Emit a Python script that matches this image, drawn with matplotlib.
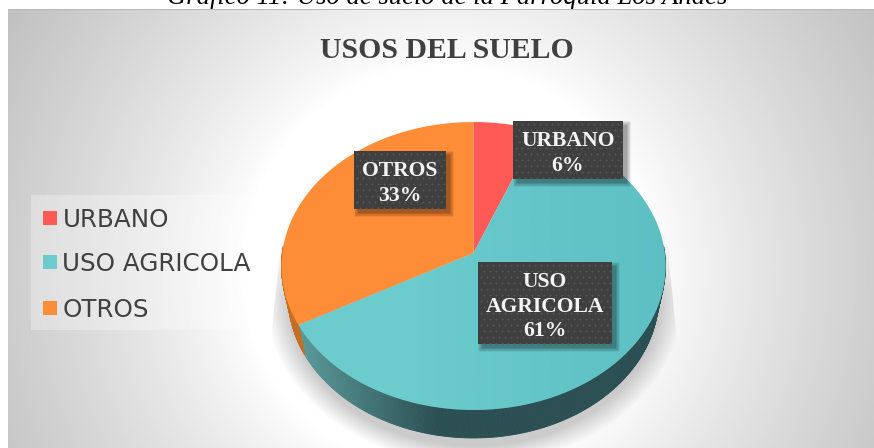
import numpy as np
import matplotlib
matplotlib.use("Agg")
import matplotlib.pyplot as plt
from matplotlib.colors import to_rgb
from matplotlib.patches import Polygon, Rectangle

categories = ["URBANO", "USO AGRICOLA", "OTROS"]
shares = [6, 61, 33]
face_colors = ["#FF5A55", "#6BCBCD", "#FF8C37"]
side_colors = ["#B8403C", "#2B4F52", "#C56D22"]
label_texts = ["URBANO\n6%", "USO\nAGRICOLA\n61%", "OTROS\n33%"]
title = "USOS DEL SUELO"
caption = "Gráfico 11: Uso de suelo de la Parroquia Los Andes"

W, H = 874, 448
fig = plt.figure(figsize=(W / 100, H / 100), dpi=100, facecolor="white")
ax = fig.add_axes([0, 0, 1, 1])
ax.axis("off")

# caption, partly covered by the chart panel
ax.text(447, 4.5, caption, family="Liberation Serif", style="italic", fontsize=19.2,
        ha="center", va="baseline", color="black", zorder=0)

# panel background: radial gradient
yy, xx = np.mgrid[9:H, 8:W] + 0.5
r = np.hypot(xx - 447, (yy - 270))
t = np.clip((r - 205) / 300, 0, 1) ** 0.85
g = 1 - t * (1 - 0.76)
bg = np.dstack([g, g, g])
ax.imshow(bg, extent=(8, W, H, 9), zorder=1, aspect="auto", interpolation="bilinear")
ax.add_patch(Rectangle((8, 9), W - 8, 1.5, fc="#B8B8B8", ec="none", zorder=1.1))

# legend backing
ax.add_patch(Rectangle((31, 195), 231, 135, fc="white", alpha=0.3, ec="none", zorder=1.2))

# pie geometry (perspective projected disc)
CX, CY, A, B, K = 473.5, 253.0, 191.2, 142.8, 0.0903
RIM_CY, BASE_CY, SX, SY = 266.0, 297.0, 185 / 192, 141 / 144


def rim(theta):
    u, v = np.sin(theta), np.cos(theta)
    w = 1 + K * v
    return CX + A * u / w, CY - B * v / w


def base(theta):
    x, y = rim(theta)
    return CX + (x - CX) * SX, BASE_CY + (y - RIM_CY) * SY


# soft shadow below the pie, with the hard wedge edges of the original
sy, sx = np.mgrid[0:H, 0:W] + 0.5
rr = np.hypot((sx - 474) / 186, (sy - 296) / 150)
dist = (rr - 1) * 170
sh = 0.27 * np.clip(1 - dist / 22, 0, 1) * np.clip((sy - 225) / 70, 0, 1)
half = 192 + np.clip(sy - 225, 0, 120) * 0.1
sh = sh * np.clip(half - np.abs(sx - 474), 0, 1)
shadow = np.zeros((H, W, 4))
shadow[..., :3] = 0.25
shadow[..., 3] = sh
ax.imshow(shadow, extent=(0, W, H, 0), zorder=1.5, aspect="auto")

edges = np.cumsum([0] + shares) / sum(shares) * 2 * np.pi
mid_light = np.array(to_rgb("#5C9C9C"))

# side wall
for i, col in enumerate(side_colors):
    lo, hi = max(edges[i], np.pi / 2 - 0.05), min(edges[i + 1], 3 * np.pi / 2 + 0.05)
    if hi <= lo:
        continue
    th = np.linspace(lo, hi, 240)
    for a, b in zip(th[:-1], th[1:]):
        pair = np.array([a, b])
        xa, ya = rim(pair)
        xb, yb = base(pair)
        c = np.array(to_rgb(col))
        if i == 1:
            f = np.clip((440 - xb[0]) / 140, 0, 1)
            c = c + (mid_light - c) * f
        ax.fill([xa[0], xa[1], xb[1], xb[0]], [ya[0], ya[1], yb[1], yb[0]],
                color=c, lw=0.6, zorder=2)

# top faces
for i, col in enumerate(face_colors):
    th = np.linspace(edges[i], edges[i + 1], 300)
    xs, ys = rim(th)
    ax.fill(np.r_[CX, xs], np.r_[CY, ys], color=col, lw=0, zorder=3)
    if i == 1:
        # faint darkening of the teal face towards its right side
        ramp = np.linspace(0, 1, 256)[None, :]
        rgba = np.zeros((1, 256, 4))
        rgba[..., :3] = to_rgb("#55B8BD")
        rgba[..., 3] = np.clip((ramp - 0.35) / 0.65, 0, 1) * 0.6
        im = ax.imshow(rgba, extent=(282, 666, 448, 100), aspect="auto", zorder=3.1)
        clip = Polygon(np.c_[np.r_[CX, xs], np.r_[CY, ys]], closed=True, transform=ax.transData)
        im.set_clip_path(clip)

# title
ax.text(447, 57.5, title, family="Liberation Serif", weight="bold", fontsize=21.4,
        color="#404040", ha="center", va="baseline", zorder=5)

# legend
leg_y = [218, 262, 308]
for name, col, y in zip(categories, face_colors, leg_y):
    ax.add_patch(Rectangle((43, y - 7), 14, 14, fc=col, ec="none", zorder=4))
    ax.text(62.5, y + 8.8, name, family="DejaVu Sans", fontsize=17.7, color="#404040",
            ha="left", va="baseline", zorder=5)

# data labels
boxes = [(513, 121, 110, 58), (478, 262, 134, 82), (354, 151, 92, 58)]
for txt, (x, y, w, h) in zip(label_texts, boxes):
    for k in range(8, 0, -1):
        ax.add_patch(Rectangle((x + 5 - k * 0.6, y + 5 - k * 0.6), w + k * 1.2 - 2, h + k * 1.2 - 2,
                               fc="black", alpha=0.05, ec="none", zorder=5.5))
    ax.add_patch(Rectangle((x, y), w, h, fc="#3F3F3F", ec="none", zorder=6))
    gx, gy = np.meshgrid(np.arange(x + 3, x + w, 6.0), np.arange(y + 3, y + h, 6.0))
    gx = gx + (np.arange(gy.shape[0])[:, None] % 2) * 3
    keep = gx < x + w - 1
    ax.scatter(gx[keep], gy[keep], s=2.2, c="#565656", linewidths=0, zorder=6.1)
    ax.text(x + w / 2, y + h / 2 + 3.5, txt, family="Liberation Serif", weight="bold",
            fontsize=15.6, color="#F4F4F4", ha="center", va="center", linespacing=1.32, zorder=7)

ax.set_xlim(0, W)
ax.set_ylim(H, 0)
fig.savefig("out.png", dpi=100, facecolor="white")
